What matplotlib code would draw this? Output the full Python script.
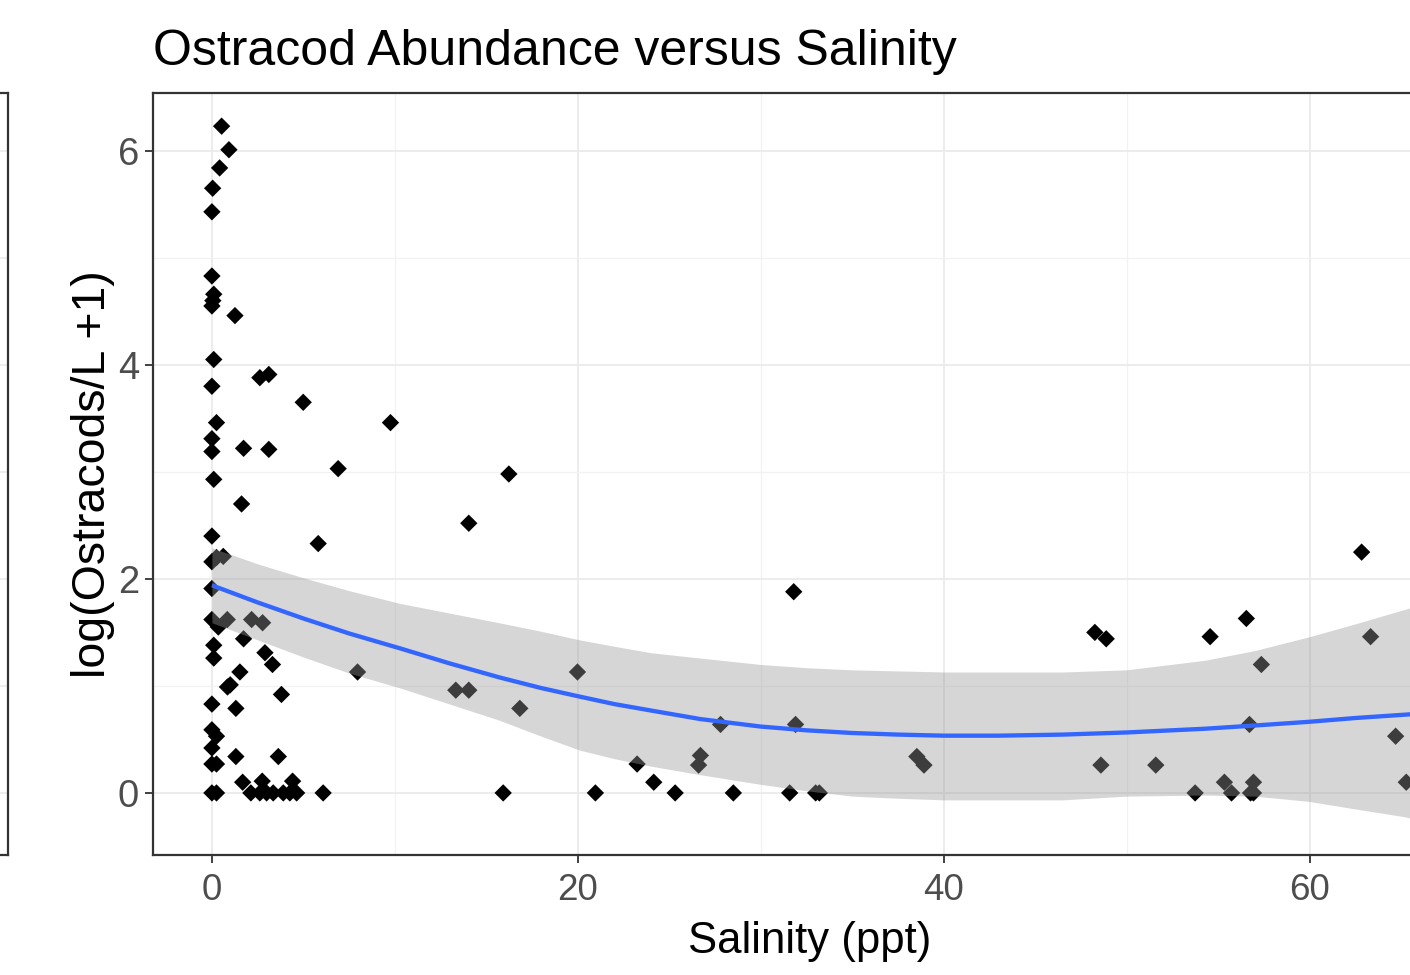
import matplotlib
matplotlib.use("Agg")
import matplotlib.pyplot as plt
import numpy as np

plt.rcParams['font.family'] = ['Liberation Sans', 'DejaVu Sans']

# ---- data ----
salinity = [0.53, 0.93, 0.42, 0.04, 0.0, 0.0, 0.1, 0.05, 0.0, 1.26, 0.1, 2.62, 3.11, 0.0,
            4.99, 9.76, 0.25, 0.0, 0.0, 1.73, 3.11, 6.9, 0.1, 1.62, 5.81, 0.0, 0.0, 0.25,
            0.62, 0.0, 0.0, 0.35, 0.84, 2.17, 2.77, 1.73, 0.1, 0.1, 2.9, 3.31, 1.53, 7.96,
            0.85, 1.0, 3.8, 0.0, 1.31, 0.0, 0.25, 0.0, 0.0, 0.25, 1.31, 3.63, 1.68, 2.75,
            4.41, 0.0, 0.25, 2.13, 2.62, 2.99, 3.35, 3.9, 4.26, 4.63, 6.08,
            16.23, 14.04, 31.8, 19.98, 13.33, 14.04, 16.83, 27.8, 31.9, 23.24, 26.7, 26.6,
            24.15, 15.92, 20.96, 25.32, 28.5, 31.58, 33.0, 33.2,
            62.84, 48.26, 48.88, 54.56, 56.54, 63.33, 57.36, 56.71, 64.70, 38.53, 38.92,
            48.59, 51.59, 53.74, 55.34, 55.73, 56.93, 56.77, 56.93, 65.28]
log_ostracods = [6.23, 6.01, 5.84, 5.65, 5.43, 4.83, 4.66, 4.60, 4.55, 4.46, 4.05, 3.88, 3.91, 3.80,
                 3.65, 3.46, 3.46, 3.31, 3.19, 3.22, 3.21, 3.03, 2.93, 2.70, 2.33, 2.40, 2.16, 2.20,
                 2.21, 1.91, 1.62, 1.55, 1.62, 1.62, 1.59, 1.44, 1.38, 1.26, 1.31, 1.20, 1.13, 1.13,
                 0.99, 1.01, 0.92, 0.83, 0.79, 0.59, 0.53, 0.42, 0.27, 0.27, 0.34, 0.34, 0.10, 0.11,
                 0.11, 0.0, 0.0, 0.0, 0.0, 0.0, 0.0, 0.0, 0.0, 0.0, 0.0,
                 2.98, 2.52, 1.88, 1.13, 0.96, 0.96, 0.79, 0.64, 0.64, 0.27, 0.35, 0.26,
                 0.10, 0.0, 0.0, 0.0, 0.0, 0.0, 0.0, 0.0,
                 2.25, 1.50, 1.44, 1.46, 1.63, 1.46, 1.20, 0.64, 0.53, 0.34, 0.26,
                 0.26, 0.26, 0.0, 0.10, 0.0, 0.10, 0.0, 0.0, 0.10]

smooth_x = [0, 2.5, 5, 7.5, 10.3, 13, 15.7, 18, 20.1, 22, 24, 26.7, 30, 32.5, 35, 37.5, 40, 43,
            46.5, 50, 54.3, 57, 60, 62.5, 65.1, 68.6]
smooth_fit = [1.94, 1.78, 1.63, 1.49, 1.35, 1.21, 1.08, 0.98, 0.90, 0.83, 0.77, 0.69, 0.62, 0.585,
              0.56, 0.545, 0.535, 0.535, 0.545, 0.565, 0.60, 0.63, 0.665, 0.70, 0.73, 0.77]
smooth_upper = [2.29, 2.14, 2.01, 1.89, 1.77, 1.68, 1.59, 1.51, 1.43, 1.37, 1.31, 1.26, 1.20, 1.17,
                1.15, 1.14, 1.13, 1.13, 1.13, 1.15, 1.24, 1.33, 1.46, 1.58, 1.71, 1.88]
smooth_lower = [1.59, 1.43, 1.27, 1.12, 0.98, 0.83, 0.68, 0.53, 0.40, 0.32, 0.25, 0.17, 0.08, 0.02,
                -0.03, -0.05, -0.065, -0.065, -0.065, -0.03, -0.02, -0.03, -0.08, -0.15, -0.22, -0.35]

x_ticks = [0, 20, 40, 60]
y_ticks = [0, 2, 4, 6]
left_panel_grid = [0, 1, 2, 3, 4, 5, 6]

# ---- figure ----
W, H = 1410, 975
fig = plt.figure(figsize=(W / 100, H / 100), dpi=100)

def frac(x0, y0, x1, y1):
    return [x0 / W, 1 - y1 / H, (x1 - x0) / W, (y1 - y0) / H]

grid_major = '#EBEBEB'
border = '#333333'

# partial neighbouring panel on the far left
axl = fig.add_axes(frac(-500, 93, 8, 855))
axl.set_xlim(0, 1)
axl.set_ylim(-0.58, 6.54)
for g in left_panel_grid:
    axl.axhline(g, color=grid_major, lw=1.2, zorder=0)
axl.set_xticks([])
axl.set_yticks([])
for s in axl.spines.values():
    s.set_color(border)
    s.set_linewidth(1.6)

# main panel (extends past right edge of figure, as in the cropped reference)
ax = fig.add_axes(frac(153, 93, 1467, 855))
ax.set_xlim(-3.22, 68.6)
ax.set_ylim(-0.58, 6.54)

ax.set_xticks(x_ticks)
ax.set_yticks(y_ticks)
ax.set_xticks([10, 30, 50], minor=True)
ax.set_yticks([1, 3, 5], minor=True)
ax.grid(which='major', color=grid_major, lw=1.3, zorder=0)
ax.grid(which='minor', color='#F2F2F2', lw=0.9, zorder=0)
ax.set_axisbelow(True)

ax.scatter(salinity, log_ostracods, marker='D', s=78, color='black', edgecolors='none', zorder=2)
ax.fill_between(smooth_x, smooth_lower, smooth_upper, color='#999999', alpha=0.4, lw=0, zorder=3)
ax.plot(smooth_x, smooth_fit, color='#3366FF', lw=3.1, zorder=4, solid_capstyle='butt',
        solid_joinstyle='round')

for s in ax.spines.values():
    s.set_color(border)
    s.set_linewidth(1.6)

ax.tick_params(which='major', length=6, width=1.3, color=border, labelcolor='#4D4D4D')
ax.tick_params(axis='x', which='major', labelsize=26.5, pad=7)
ax.tick_params(axis='y', which='major', labelsize=27.5, pad=4)
ax.tick_params(which='minor', length=0)

ax.set_xlabel('Salinity (ppt)', fontsize=31.5, color='black', labelpad=9)
ax.set_ylabel('log(Ostracods/L +1)', fontsize=33.5, color='black', labelpad=2)

fig.text(153 / W, 1 - 52 / H, 'Ostracod Abundance versus Salinity', fontsize=36,
         ha='left', va='center', color='black')

fig.savefig('out.png', dpi=100)
